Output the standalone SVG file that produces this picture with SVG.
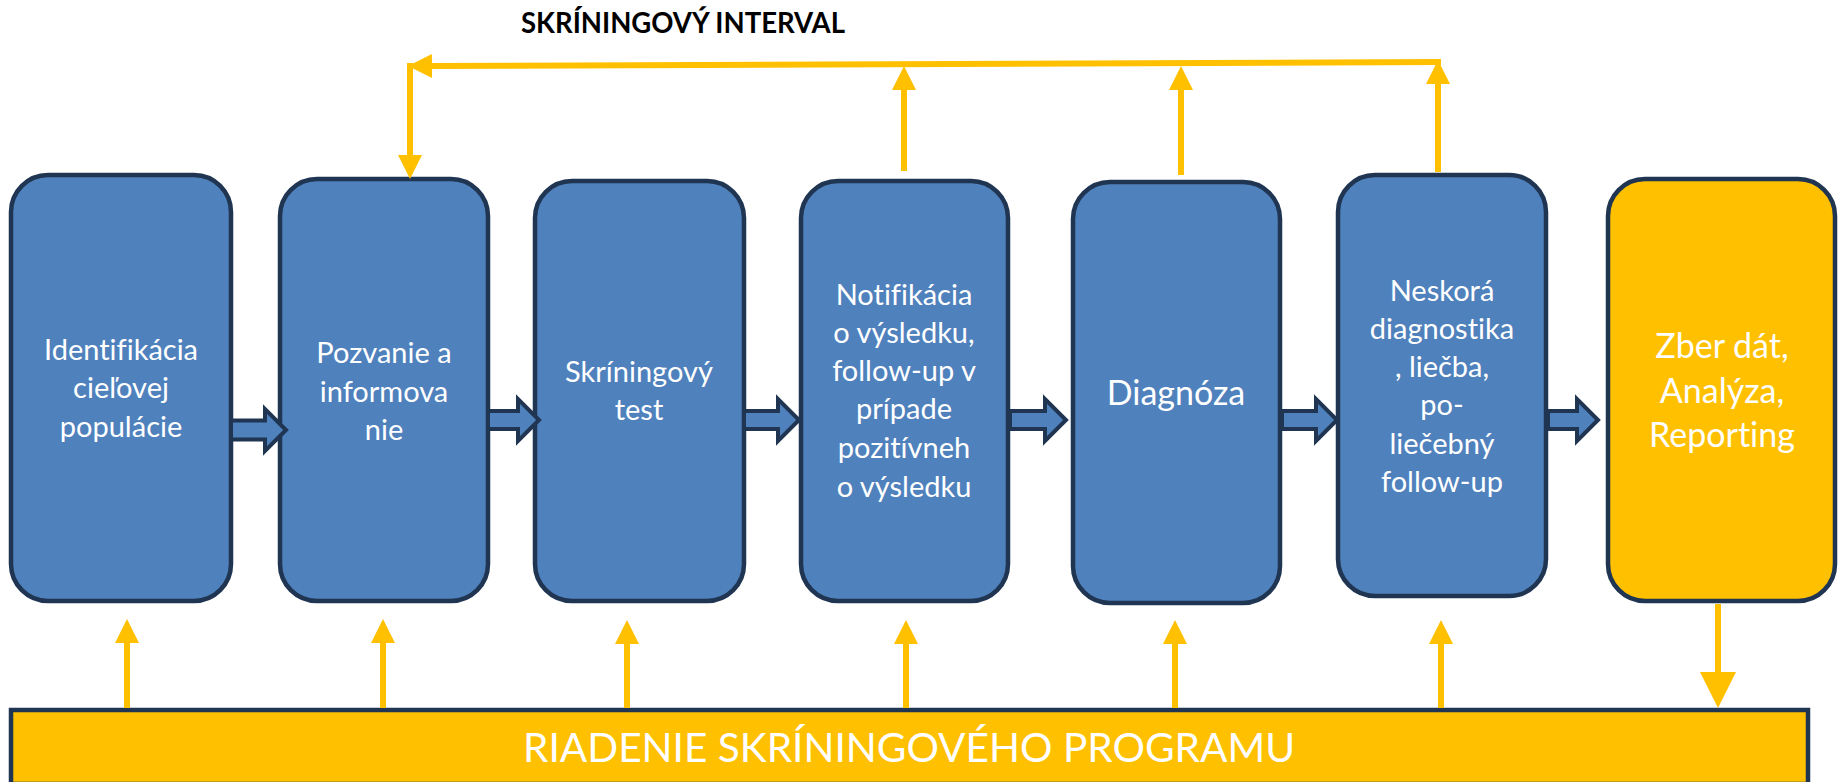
<svg xmlns="http://www.w3.org/2000/svg" width="1845" height="782" viewBox="0 0 1845 782">
<style>
.box{fill:#4F81BD;stroke:#1F3552;stroke-width:4.5}
.ybox{fill:#FFC000;stroke:#1F3552;stroke-width:4.5}
.t{font-family:Lato,"Open Sans","Liberation Sans",sans-serif;font-size:29px;fill:#FFFFFF;text-anchor:middle;font-variant-ligatures:none}
.ty{font-size:34px}
.title{font-family:Lato,"Open Sans","Liberation Sans",sans-serif;font-size:28px;font-weight:bold;fill:#000000;text-anchor:middle}
.bar{font-family:Lato,"Open Sans","Liberation Sans",sans-serif;font-size:40px;fill:#FFFFFF;text-anchor:middle}
.yl{stroke:#FFC000;stroke-width:6;fill:none}
.blk{fill:#4F81BD;stroke:#1F3552;stroke-width:4;stroke-linejoin:miter}
</style>
<defs>
<marker id="hd" markerUnits="userSpaceOnUse" viewBox="0 0 24 24" refX="0" refY="12" markerWidth="24" markerHeight="24" orient="auto">
<path d="M0,0 L24,12 L0,24 Z" fill="#FFC000"/>
</marker>
<marker id="hdb" markerUnits="userSpaceOnUse" viewBox="0 0 36 36" refX="0" refY="18" markerWidth="36" markerHeight="36" orient="auto">
<path d="M0,0 L36,18 L0,36 Z" fill="#FFC000"/>
</marker>
</defs>
<rect width="1845" height="782" fill="#FFFFFF"/>
<text class="title" x="683" y="33" textLength="324" lengthAdjust="spacingAndGlyphs">SKRÍNINGOVÝ INTERVAL</text>

<g id="n1"><rect class="box" x="11" y="175" width="220" height="426" rx="37"/>
<text class="t" x="121" y="360">Identifikácia</text><text class="t" x="121" y="398">cieľovej</text><text class="t" x="121" y="437">populácie</text></g>
<g id="n2"><rect class="box" x="280" y="179" width="208" height="422" rx="37"/>
<text class="t" x="384" y="363">Pozvanie a</text><text class="t" x="384" y="402">informova</text><text class="t" x="384" y="440">nie</text></g>
<g id="n3"><rect class="box" x="535" y="181" width="209" height="420" rx="37"/>
<text class="t" x="639" y="382">Skríningový</text><text class="t" x="639" y="420">test</text></g>
<g id="n4"><rect class="box" x="801" y="181" width="207" height="420" rx="37"/>
<text class="t" x="904" y="305">Notifikácia</text><text class="t" x="904" y="343">o výsledku,</text><text class="t" x="904" y="381">follow-up v</text><text class="t" x="904" y="419">prípade</text><text class="t" x="904" y="458">pozitívneh</text><text class="t" x="904" y="497">o výsledku</text></g>
<g id="n5"><rect class="box" x="1073" y="182" width="207" height="421" rx="37"/>
<text class="t ty" x="1176" y="405">Diagnóza</text></g>
<g id="n6"><rect class="box" x="1338" y="175" width="208" height="421" rx="37"/>
<text class="t" x="1442" y="301">Neskorá</text><text class="t" x="1442" y="339">diagnostika</text><text class="t" x="1442" y="377">, liečba,</text><text class="t" x="1442" y="415">po-</text><text class="t" x="1442" y="454">liečebný</text><text class="t" x="1442" y="492">follow-up</text></g>
<g id="n7"><rect class="ybox" x="1608" y="179" width="227" height="422" rx="37"/>
<text class="t ty" x="1722" y="358">Zber dát,</text><text class="t ty" x="1722" y="403">Analýza,</text><text class="t ty" x="1722" y="447">Reporting</text></g>
<g id="n8"><rect class="ybox" x="11" y="710" width="1797" height="74"/>
<text class="bar" x="909" y="762" textLength="772" lengthAdjust="spacingAndGlyphs">RIADENIE SKRÍNINGOVÉHO PROGRAMU</text></g>

<g id="connectors">
<path class="blk" d="M231,420.5 L265,420.5 L265,409 L286,430 L265,451 L265,439.5 L231,439.5 Z"/>
<path class="blk" d="M488,411 L518,411 L518,399 L539,420 L518,441 L518,429 L488,429 Z"/>
<path class="blk" d="M744,411 L778,411 L778,399 L799,420 L778,441 L778,429 L744,429 Z"/>
<path class="blk" d="M1010,411 L1045,411 L1045,399 L1066,420 L1045,441 L1045,429 L1010,429 Z"/>
<path class="blk" d="M1282,411 L1316,411 L1316,399 L1337,420 L1316,441 L1316,429 L1282,429 Z"/>
<path class="blk" d="M1548,411 L1577,411 L1577,399 L1598,420 L1577,441 L1577,429 L1548,429 Z"/>

<path class="yl" d="M1441,62 L432,66" stroke-width="7" marker-end="url(#hd)"/>
<path class="yl" d="M410,63 L410,155" stroke-width="7" marker-end="url(#hd)"/>
<path class="yl" d="M904,171 L904,90" marker-end="url(#hd)"/>
<path class="yl" d="M1181,175 L1181,90" marker-end="url(#hd)"/>
<path class="yl" d="M1438,172 L1438,84" marker-end="url(#hd)"/>

<path class="yl" d="M127,708 L127,643" marker-end="url(#hd)"/>
<path class="yl" d="M383,708 L383,643" marker-end="url(#hd)"/>
<path class="yl" d="M627,708 L627,644" marker-end="url(#hd)"/>
<path class="yl" d="M906,708 L906,644" marker-end="url(#hd)"/>
<path class="yl" d="M1175,708 L1175,644" marker-end="url(#hd)"/>
<path class="yl" d="M1441,708 L1441,644" marker-end="url(#hd)"/>
<path class="yl" d="M1718,604 L1718,672" stroke-width="11" marker-end="url(#hdb)"/>
</g>
</svg>
